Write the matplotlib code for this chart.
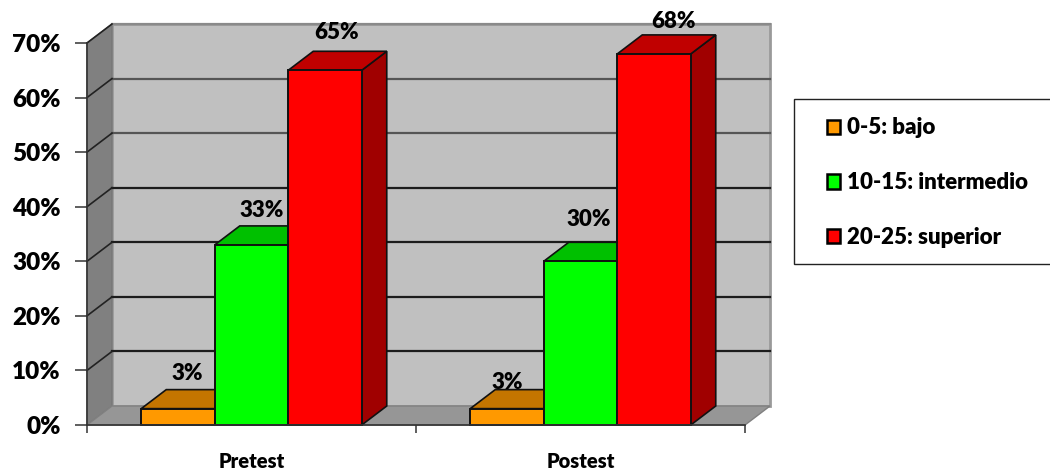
import matplotlib
matplotlib.use("Agg")
import matplotlib.pyplot as plt
from matplotlib.patches import Polygon, Patch, Rectangle

plt.rcParams['font.family'] = ['Lato', 'DejaVu Sans']
plt.rcParams['font.weight'] = 800

categories = ['Pretest', 'Postest']
series_names = ['0-5: bajo', '10-15: intermedio', '20-25: superior']
bajo = [3, 3]
intermedio = [33, 30]
superior = [65, 68]
y_ticks = [0, 10, 20, 30, 40, 50, 60, 70]

front_colors = ['#ff9900', '#00ff00', '#ff0000']
top_colors = ['#c47500', '#00c000', '#c00000']
side_colors = ['#a86400', '#00a000', '#a00000']

# label offsets in points from the middle of each bar's top edge
label_offsets = [[(7, 25), (7, 25), (8, 27)],
                 [(0, 19), (6, 30), (14, 23)]]

W, H = 1050, 472
fig = plt.figure(figsize=(W / 100, H / 100), dpi=100)
ax = fig.add_axes([87 / W, 1 - 425 / H, 658 / W, 382 / H])
ax.set_xlim(-0.5, 1.5)
ax.set_ylim(0, 70)

# depth of the fake 3D box, in data units
dx = 25 / 329
dy = 19 / 5.457
x0, x1 = -0.5, 1.5
top = 70
bar_w = 0.2234


def face(points, color, z, edge='none', lw=0):
    ax.add_patch(Polygon(points, closed=True, facecolor=color, edgecolor=edge,
                         linewidth=lw, zorder=z, clip_on=False))


# walls and floor
face([(x0 + dx, dy), (x1 + dx, dy), (x1 + dx, top + dy), (x0 + dx, top + dy)], '#c0c0c0', 1, '#9a9a9a', 2)
face([(x0, 0), (x0 + dx, dy), (x0 + dx, top + dy), (x0, top)], '#808080', 1.5, '#777777', 1)
face([(x0, 0), (x1, 0), (x1 + dx, dy), (x0 + dx, dy)], '#969696', 1.5, '#808080', 1)

for v in y_ticks[1:]:
    shade = '#1c1c1c' if v <= 40 else '#555555'
    if v == 70:
        shade = '#8a8a8a'
    ax.plot([x0 + dx, x1 + dx], [v + dy, v + dy], color=shade, lw=1.6, zorder=2, clip_on=False)
    ax.plot([x0, x0 + dx], [v, v + dy], color='#222222', lw=1.2, zorder=2, clip_on=False)

# bars, left to right so each one covers the side of the previous
values = [bajo, intermedio, superior]
for g in range(len(categories)):
    for s in range(3):
        v = values[s][g]
        left = g + (s - 1.5) * bar_w
        right = left + bar_w
        z = 3 + g + s * 0.1
        face([(right, 0), (right + dx, dy), (right + dx, v + dy), (right, v)], side_colors[s], z, '#111111', 1.2)
        face([(left, v), (right, v), (right + dx, v + dy), (left + dx, v + dy)], top_colors[s], z, '#111111', 1.2)
        ax.bar(left + bar_w / 2, v, bar_w, color=front_colors[s], edgecolor='#111111',
               linewidth=1.4, zorder=z + 0.01, clip_on=False)
        ax.annotate(f'{v}%', (left + bar_w / 2, v), xytext=label_offsets[g][s], textcoords='offset points',
                    ha='center', va='center', fontsize=16, color='black', zorder=10, annotation_clip=False)

ax.patch.set_visible(False)
for sp in ['top', 'right']:
    ax.spines[sp].set_visible(False)
for sp in ['left', 'bottom']:
    ax.spines[sp].set_color('#333333')
    ax.spines[sp].set_linewidth(1.2)
    ax.spines[sp].set_zorder(9)

ax.set_yticks(y_ticks)
ax.set_yticklabels([f'{v}%' for v in y_ticks], fontsize=17.5)
ax.tick_params(axis='y', length=9, width=1.1, color='#333333', pad=10)

# category labels sit between the tick marks
ax.set_xticks([-0.5, 0.5, 1.5])
ax.set_xticklabels([])
ax.tick_params(axis='x', length=6, width=1.1, color='#333333')
for i, name in enumerate(categories):
    ax.annotate(name, (i, 0), xytext=(0, -26.5), textcoords='offset points', ha='center', va='center',
                fontsize=14.5, annotation_clip=False)

# legend box runs off the right edge of the figure
fig.add_artist(Rectangle((794 / W, 1 - 264 / H), 270 / W, 165 / H, transform=fig.transFigure,
                         facecolor='white', edgecolor='#222222', linewidth=1.0))
handles = [Patch(facecolor=front_colors[i], edgecolor='black', linewidth=1.8, label=series_names[i])
           for i in range(3)]
leg = fig.legend(handles=handles, loc='upper left', bbox_to_anchor=(827 / W, 1 - 117.5 / H),
                 ncol=1, fontsize=16, frameon=False, borderaxespad=0, borderpad=0,
                 labelspacing=1.52, handlelength=0.6, handleheight=0.6, handletextpad=0.32)

fig.savefig('out.png', dpi=100)
